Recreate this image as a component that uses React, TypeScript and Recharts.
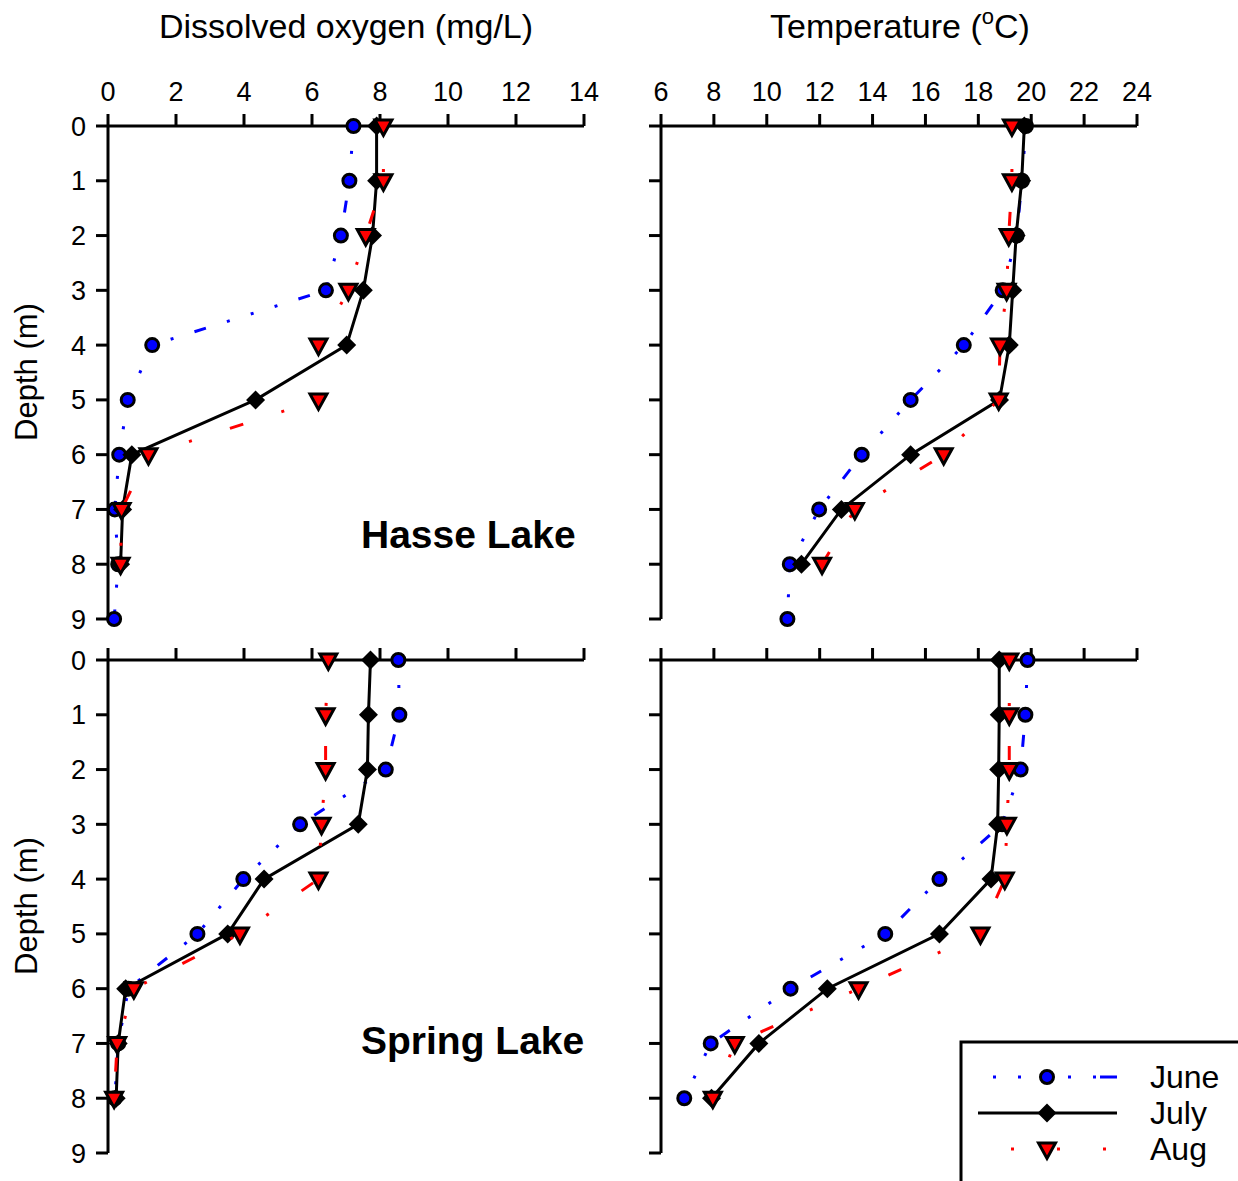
import React from "react";
import { ScatterChart, Scatter, XAxis, YAxis } from "recharts";

const FONT = "'Liberation Sans', Arial, sans-serif";

const DEPTHS = [0, 1, 2, 3, 4, 5, 6, 7, 8, 9];
const DEPTH_TICKS = [0, 1, 2, 3, 4, 5, 6, 7, 8, 9];
const DO_TICKS = [0, 2, 4, 6, 8, 10, 12, 14];
const TEMP_TICKS = [6, 8, 10, 12, 14, 16, 18, 20, 22, 24];

// Hasse Lake
const hasseDoJune = [7.22, 7.1, 6.85, 6.41, 1.3, 0.58, 0.33, 0.2, 0.3, 0.18];
const hasseDoJuly = [7.9, 7.9, 7.78, 7.51, 7.02, 4.34, 0.7, 0.43, 0.37];
const hasseDoAug = [8.1, 8.1, 7.58, 7.07, 6.19, 6.19, 1.19, 0.4, 0.37];
const hasseTempJune = [19.8, 19.65, 19.45, 18.92, 17.45, 15.44, 13.59, 11.98, 10.87, 10.78];
const hasseTempJuly = [19.74, 19.64, 19.43, 19.3, 19.17, 18.8, 15.44, 12.82, 11.31];
const hasseTempAug = [19.27, 19.27, 19.15, 19.07, 18.82, 18.77, 16.69, 13.33, 12.09];

// Spring Lake
const springDoJune = [8.54, 8.57, 8.17, 5.65, 3.98, 2.63, 0.6, 0.3, 0.2];
const springDoJuly = [7.72, 7.66, 7.63, 7.36, 4.59, 3.52, 0.52, 0.3, 0.24];
const springDoAug = [6.48, 6.4, 6.4, 6.28, 6.19, 3.88, 0.76, 0.27, 0.18];
const springTempJune = [19.86, 19.78, 19.6, 18.9, 16.53, 14.48, 10.9, 7.88, 6.88];
const springTempJuly = [18.79, 18.79, 18.77, 18.73, 18.48, 16.53, 12.29, 9.7, 7.91];
const springTempAug = [19.17, 19.17, 19.17, 19.08, 19.0, 18.08, 13.47, 8.79, 7.96];

const BLUE = "#0000ff";
const RED = "#ff0000";
const JUNE_DASH = "3 22 3 22 3 22 12 22";
const AUG_DASH = "3 40 3 40 14 40";

const toRows = (vals: number[]) => vals.map((v, i) => ({ x: v, depth: DEPTHS[i] }));

const CircleMark = (p: any) => (
  <circle cx={p.cx} cy={p.cy} r={6.5} fill={BLUE} stroke="#000" strokeWidth={3} />
);
const DiamondMark = (p: any) => (
  <polygon
    points={`${p.cx - 9.5},${p.cy} ${p.cx},${p.cy - 9.5} ${p.cx + 9.5},${p.cy} ${p.cx},${p.cy + 9.5}`}
    fill="#000"
  />
);
const TriangleMark = (p: any) => (
  <polygon
    points={`${p.cx - 8.5},${p.cy - 6} ${p.cx + 8.5},${p.cy - 6} ${p.cx},${p.cy + 9.5}`}
    fill={RED}
    stroke="#000"
    strokeWidth={3}
    strokeLinejoin="miter"
  />
);

const noTick = () => <g />;

type PanelProps = {
  left: number;
  top: number;
  width: number;
  height: number;
  margin: { top: number; right: number; bottom: number; left: number };
  xDomain: [number, number];
  xTicks: number[];
  xLabels: boolean;
  yLabels: boolean;
  june: number[];
  july: number[];
  aug: number[];
};

function Panel(props: PanelProps) {
  const tickStyle = { fill: "#000", fontSize: 27, fontFamily: FONT };
  const line = { stroke: "#000", strokeWidth: 3 };
  return (
    <div style={{ position: "absolute", left: props.left, top: props.top }}>
      <ScatterChart width={props.width} height={props.height} margin={props.margin}>
        <XAxis
          type="number"
          dataKey="x"
          orientation="top"
          domain={props.xDomain}
          ticks={props.xTicks}
          interval={0}
          height={props.xLabels ? 40 : 20}
          tickSize={12}
          tickMargin={13}
          axisLine={line}
          tickLine={line}
          tick={props.xLabels ? tickStyle : noTick}
        />
        <YAxis
          type="number"
          dataKey="depth"
          reversed
          domain={[0, 9]}
          ticks={DEPTH_TICKS}
          interval={0}
          width={props.yLabels ? 60 : 20}
          tickSize={12}
          tickMargin={10}
          axisLine={line}
          tickLine={line}
          tick={props.yLabels ? tickStyle : noTick}
        />
        <Scatter
          data={toRows(props.june)}
          fill={BLUE}
          line={{ stroke: BLUE, strokeWidth: 3, strokeDasharray: JUNE_DASH }}
          lineType="joint"
          shape={CircleMark}
          isAnimationActive={false}
        />
        <Scatter
          data={toRows(props.july)}
          fill="#000"
          line={{ stroke: "#000", strokeWidth: 3 }}
          lineType="joint"
          shape={DiamondMark}
          isAnimationActive={false}
        />
        <Scatter
          data={toRows(props.aug)}
          fill={RED}
          line={{ stroke: RED, strokeWidth: 3, strokeDasharray: AUG_DASH }}
          lineType="joint"
          shape={TriangleMark}
          isAnimationActive={false}
        />
      </ScatterChart>
    </div>
  );
}

export default function App() {
  return (
    <div
      style={{
        position: "absolute",
        left: 0,
        top: 0,
        width: 1238,
        height: 1181,
        overflow: "hidden",
        background: "#fff",
        fontFamily: FONT,
      }}
    >
      <Panel
        left={0}
        top={0}
        width={600}
        height={640}
        margin={{ top: 86, left: 48, right: 16, bottom: 21 }}
        xDomain={[0, 14]}
        xTicks={DO_TICKS}
        xLabels
        yLabels
        june={hasseDoJune}
        july={hasseDoJuly}
        aug={hasseDoAug}
      />
      <Panel
        left={600}
        top={0}
        width={638}
        height={640}
        margin={{ top: 86, left: 41, right: 101, bottom: 21 }}
        xDomain={[6, 24]}
        xTicks={TEMP_TICKS}
        xLabels
        yLabels={false}
        june={hasseTempJune}
        july={hasseTempJuly}
        aug={hasseTempAug}
      />
      <Panel
        left={0}
        top={640}
        width={600}
        height={540}
        margin={{ top: 0, left: 48, right: 16, bottom: 27 }}
        xDomain={[0, 14]}
        xTicks={DO_TICKS}
        xLabels={false}
        yLabels
        june={springDoJune}
        july={springDoJuly}
        aug={springDoAug}
      />
      <Panel
        left={600}
        top={640}
        width={638}
        height={540}
        margin={{ top: 0, left: 41, right: 101, bottom: 27 }}
        xDomain={[6, 24]}
        xTicks={TEMP_TICKS}
        xLabels={false}
        yLabels={false}
        june={springTempJune}
        july={springTempJuly}
        aug={springTempAug}
      />
      <svg
        width={1238}
        height={1181}
        style={{ position: "absolute", left: 0, top: 0, pointerEvents: "none" }}
        fontFamily={FONT}
      >
        <text x={346} y={38} fontSize={34} textAnchor="middle" fill="#000">
          Dissolved oxygen (mg/L)
        </text>
        <text x={900} y={38} fontSize={34} textAnchor="middle" fill="#000">
          Temperature (<tspan fontSize={22} dy={-14}>o</tspan>
          <tspan dy={14}>C)</tspan>
        </text>
        <text transform="translate(37,372) rotate(-90)" fontSize={31} textAnchor="middle" fill="#000">
          Depth (m)
        </text>
        <text transform="translate(37,906) rotate(-90)" fontSize={31} textAnchor="middle" fill="#000">
          Depth (m)
        </text>
        <text x={361} y={548} fontSize={39} fontWeight="bold" fill="#000">
          Hasse Lake
        </text>
        <text x={361} y={1054} fontSize={39} fontWeight="bold" fill="#000">
          Spring Lake
        </text>

        <rect x={961} y={1042} width={300} height={200} fill="#fff" stroke="#000" strokeWidth={3} />
        <line x1={993} y1={1077} x2={1117} y2={1077} stroke={BLUE} strokeWidth={3} strokeDasharray="3 22 3 22 3 22 3 22 3 4 18 22" />
        <CircleMark cx={1047} cy={1077} />
        <line x1={978} y1={1113} x2={1117} y2={1113} stroke="#000" strokeWidth={3} />
        <DiamondMark cx={1047} cy={1113} />
        <line x1={1011} y1={1149} x2={1117} y2={1149} stroke={RED} strokeWidth={3} strokeDasharray="3 43" />
        <TriangleMark cx={1047} cy={1149} />
        <text x={1150} y={1088} fontSize={32} fill="#000">June</text>
        <text x={1150} y={1124} fontSize={32} fill="#000">July</text>
        <text x={1150} y={1160} fontSize={32} fill="#000">Aug</text>
      </svg>
    </div>
  );
}
